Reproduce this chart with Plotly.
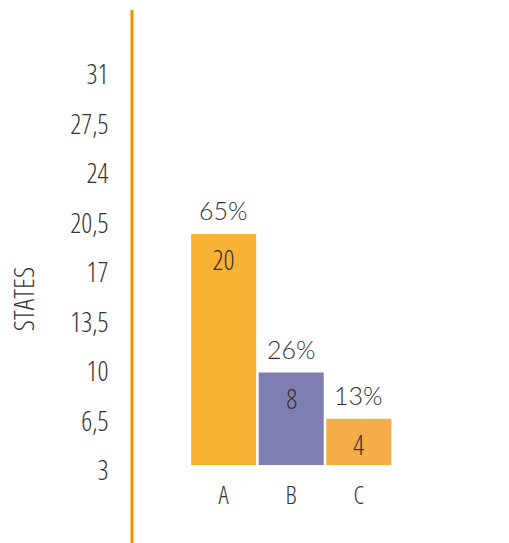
import plotly.graph_objects as go

# Data
categories = ["A", "B", "C"]
counts = [20, 8, 4]
shares = ["65%", "26%", "13%"]
bar_colors = ["#F8B133", "#7F7EB2", "#F4AD49"]
scale_ticks = [3, 6.5, 10, 13.5, 17, 20.5, 24, 27.5, 31]
scale_labels = ["3", "6,5", "10", "13,5", "17", "20,5", "24", "27,5", "31"]

FONT = "Open Sans, DejaVu Sans Condensed, sans-serif"
SHARE_FONT = "Lato, Inter, sans-serif"
TEXT = "#333333"
AXIS_ORANGE = "#F39200"

fig = go.Figure()

# Invisible helper trace so the left scale axis is rendered
fig.add_trace(go.Scatter(x=[categories[0]], y=[scale_ticks[0]], mode="markers",
                         marker=dict(opacity=0), yaxis="y", hoverinfo="skip",
                         showlegend=False))

fig.add_trace(go.Bar(x=categories, y=counts, marker=dict(color=bar_colors, line=dict(width=0)),
                     yaxis="y2", showlegend=False, hoverinfo="skip"))

# Counts inside the bars and shares above them
for cat, val, pct in zip(categories, counts, shares):
    fig.add_annotation(x=cat, y=val, xref="x", yref="y2", text=str(val), showarrow=False,
                       yshift=-26, font=dict(family=FONT, size=27, color=TEXT, weight=300))
    fig.add_annotation(x=cat, y=val, xref="x", yref="y2", text=pct, showarrow=False,
                       yshift=24, font=dict(family=SHARE_FONT, size=25, color=TEXT, weight=300))

# Axis title
fig.add_annotation(text="STATES", xref="paper", yref="paper", x=-0.296, y=0.373,
                   textangle=-90, showarrow=False, xanchor="center", yanchor="middle",
                   font=dict(family=FONT, size=28, color=TEXT, weight=300))

# Orange vertical axis line
fig.add_shape(type="line", xref="paper", yref="paper", x0=0, x1=0, y0=-0.156, y1=1,
              line=dict(color=AXIS_ORANGE, width=3))

fig.update_layout(
    width=509, height=543,
    margin=dict(l=132, r=9, t=10, b=72),
    paper_bgcolor="white", plot_bgcolor="white",
    bargap=0.037,
    xaxis=dict(type="category", range=[-1.356, 4.09], showgrid=False, zeroline=False,
               showline=False, ticks="outside", ticklen=2, tickcolor="rgba(0,0,0,0)",
               tickfont=dict(family=FONT, size=25, color=TEXT, weight=300)),
    yaxis=dict(range=[2.98, 35.6], tickvals=scale_ticks, ticktext=scale_labels,
               showgrid=False, zeroline=False, showline=False, ticks="outside",
               ticklen=17, tickcolor="rgba(0,0,0,0)",
               tickfont=dict(family=FONT, size=27, color=TEXT, weight=300)),
    yaxis2=dict(range=[-0.519, 39.39], overlaying="y", side="left", visible=False),
)

# Narrow letterforms for the Open Sans text (Lato has no condensed face)
condensed_css = (
    "var s=document.createElement('style');"
    "s.textContent='.main-svg text{font-stretch:condensed !important;}';"
    "document.head.appendChild(s);"
)

fig.write_html("out.html", post_script=condensed_css)
